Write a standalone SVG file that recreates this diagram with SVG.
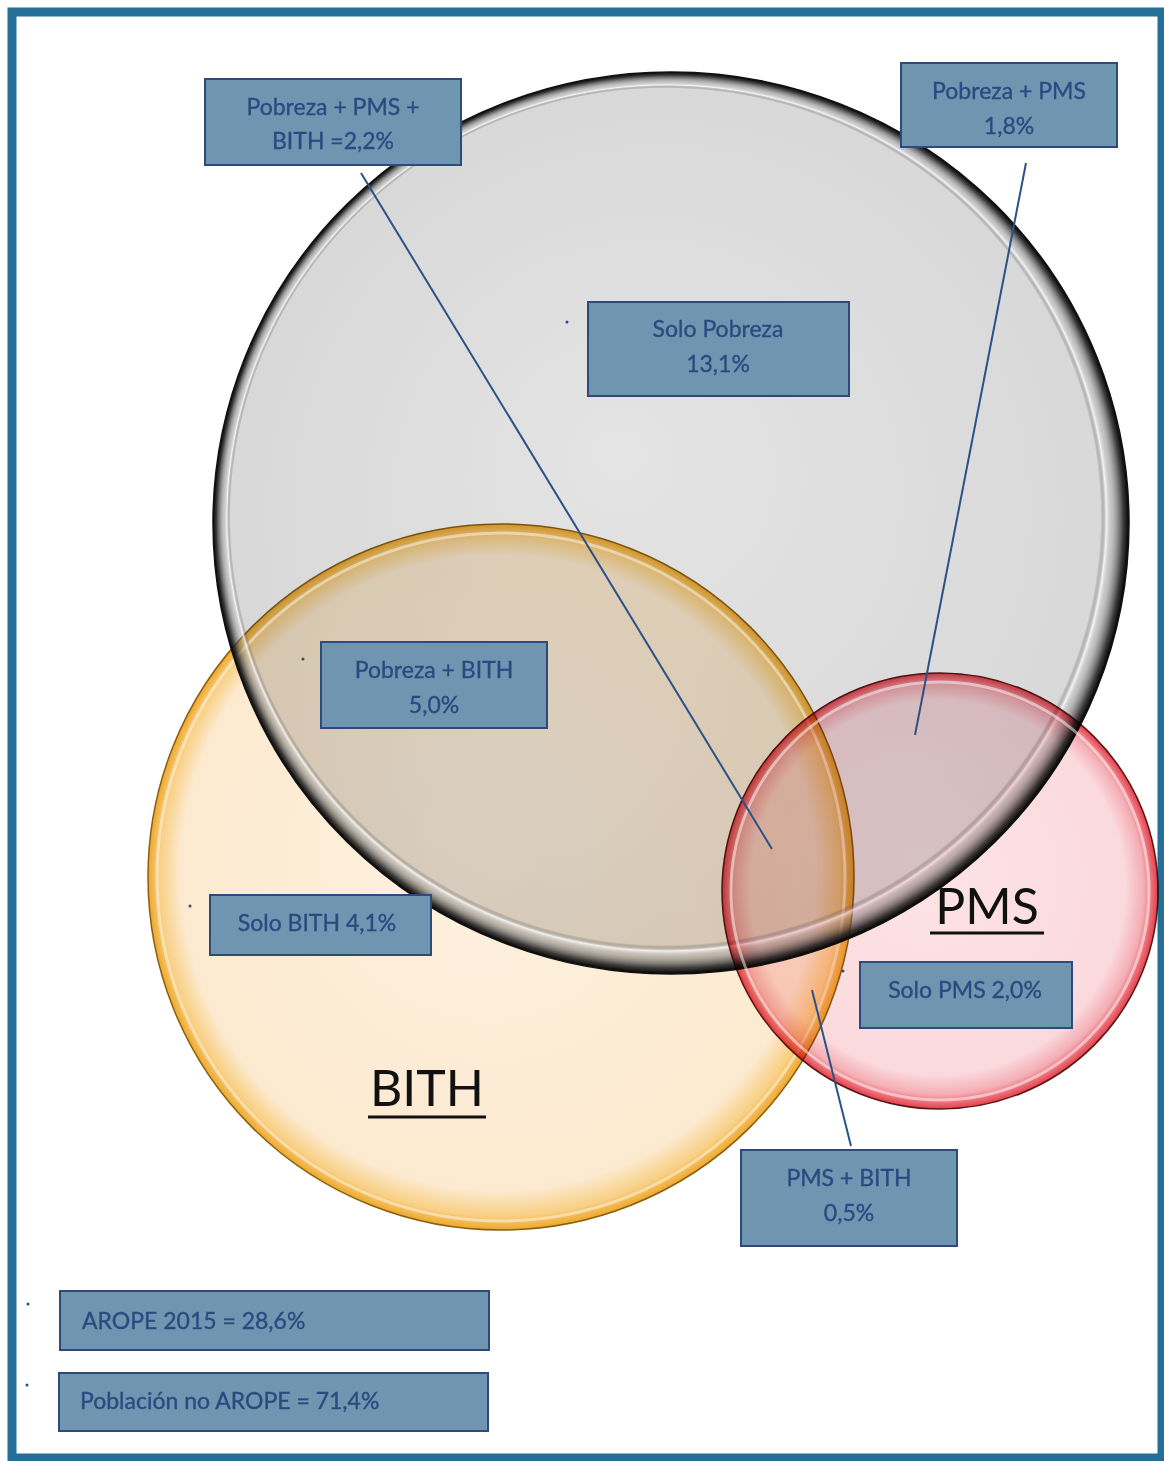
<svg xmlns="http://www.w3.org/2000/svg" width="1164" height="1461" viewBox="0 0 1164 1461">
<style>
.box{fill:#7095b0;stroke:#2d4a7a;stroke-width:2}
.lbl{font-family:Lato,"Open Sans","Liberation Sans",sans-serif;font-size:23px;fill:#2a4a80;stroke:#2a4a80;stroke-width:0.35;text-anchor:middle}
.lbll{font-family:Lato,"Open Sans","Liberation Sans",sans-serif;font-size:23px;fill:#2a4a80;stroke:#2a4a80;stroke-width:0.35}
.big{font-family:Lato,"Open Sans","Liberation Sans",sans-serif;font-size:50px;fill:#111;text-anchor:middle}
.lead{stroke:#2a5285;stroke-width:2;fill:none}
.dot{fill:#2a4a80}
.mult{mix-blend-mode:multiply}
</style>
<defs>
<radialGradient id="gGray" cx="0.5" cy="0.5" r="0.5" fx="0.44" fy="0.42">
<stop offset="0" stop-color="#e4e4e4"/>
<stop offset="1" stop-color="#d8d8d8"/>
</radialGradient>
<radialGradient id="gGrayRim" cx="0.5" cy="0.5" r="0.5" fx="0.38" fy="0.36">
<stop offset="0" stop-color="#000" stop-opacity="0"/>
<stop offset="0.95" stop-color="#000" stop-opacity="0"/>
<stop offset="0.96" stop-color="#fff" stop-opacity="0.75"/>
<stop offset="0.97" stop-color="#999" stop-opacity="0.35"/>
<stop offset="0.99" stop-color="#222" stop-opacity="0.85"/>
<stop offset="1" stop-color="#000" stop-opacity="1"/>
</radialGradient>
<radialGradient id="gBith" cx="0.5" cy="0.5" r="0.5" fx="0.46" fy="0.44">
<stop offset="0" stop-color="#fdf0de"/>
<stop offset="0.9" stop-color="#fce8cc"/>
<stop offset="0.965" stop-color="#f8cc7a"/>
<stop offset="1" stop-color="#eca018"/>
</radialGradient>
<radialGradient id="gPms" cx="0.5" cy="0.5" r="0.5" fx="0.46" fy="0.44">
<stop offset="0" stop-color="#fcdfe2"/>
<stop offset="0.86" stop-color="#fad3d7"/>
<stop offset="0.94" stop-color="#f2a0a8"/>
<stop offset="1" stop-color="#e01c2a"/>
</radialGradient>
</defs>
<rect x="0" y="0" width="1164" height="1461" fill="#fff"/>
<rect x="12" y="12" width="1150" height="1446" fill="#fff" stroke="#236f97" stroke-width="9"/>

<g id="circle-pobreza">
<ellipse cx="671" cy="523" rx="458" ry="451" fill="url(#gGray)"/>
</g>
<g id="circle-bith">
<circle class="mult" cx="501" cy="877" r="353" fill="url(#gBith)" fill-opacity="0.92" stroke="#8a6010" stroke-width="1.5"/>
<circle cx="501" cy="877" r="344" fill="none" stroke="#fff" stroke-opacity="0.45" stroke-width="3"/>
</g>
<g id="rim-pobreza">
<ellipse cx="671" cy="523" rx="458" ry="451" fill="url(#gGrayRim)" stroke="#111" stroke-width="1.5"/>
</g>
<g id="circle-pms">
<circle class="mult" cx="940" cy="891" r="218" fill="url(#gPms)" fill-opacity="0.85" stroke="#5a1515" stroke-width="1.5"/>
<circle cx="940" cy="891" r="209" fill="none" stroke="#fff" stroke-opacity="0.5" stroke-width="3"/>
</g>
<g id="title-bith">
<text class="big" x="427" y="1106">BITH</text>
<line x1="368" y1="1117" x2="486" y2="1117" stroke="#111" stroke-width="3"/>
</g>
<g id="title-pms">
<text class="big" x="987" y="924">PMS</text>
<line x1="930" y1="933" x2="1044" y2="933" stroke="#111" stroke-width="3"/>
</g>

<g id="connectors">
<line class="lead" x1="361" y1="173" x2="772" y2="849"/>
<line class="lead" x1="1026" y1="163" x2="915" y2="735"/>
<line class="lead" x1="812" y1="990" x2="851" y2="1146"/>
<circle class="dot" cx="567" cy="322" r="1.5"/>
<circle class="dot" cx="303" cy="659" r="1.5"/>
<circle class="dot" cx="190" cy="906" r="1.5"/>
<circle class="dot" cx="843" cy="971" r="1.5"/>
<circle class="dot" cx="28" cy="1304" r="1.5"/>
<circle class="dot" cx="27" cy="1385" r="1.5"/>
</g>

<g id="label-pobreza-pms-bith">
<rect class="box" x="205" y="79" width="256" height="86"/>
<text class="lbl" x="333" y="115">Pobreza + PMS +</text>
<text class="lbl" x="333" y="149">BITH =2,2%</text>
</g>
<g id="label-pobreza-pms">
<rect class="box" x="901" y="63" width="216" height="84"/>
<text class="lbl" x="1009" y="99">Pobreza + PMS</text>
<text class="lbl" x="1009" y="134">1,8%</text>
</g>
<g id="label-solo-pobreza">
<rect class="box" x="588" y="302" width="261" height="94"/>
<text class="lbl" x="718" y="337">Solo Pobreza</text>
<text class="lbl" x="718" y="372">13,1%</text>
</g>
<g id="label-pobreza-bith">
<rect class="box" x="321" y="642" width="226" height="86"/>
<text class="lbl" x="434" y="678">Pobreza + BITH</text>
<text class="lbl" x="434" y="713">5,0%</text>
</g>
<g id="label-solo-bith">
<rect class="box" x="210" y="895" width="221" height="60"/>
<text class="lbl" x="317" y="931">Solo BITH 4,1%</text>
</g>
<g id="label-solo-pms">
<rect class="box" x="860" y="962" width="212" height="66"/>
<text class="lbl" x="965" y="998">Solo PMS 2,0%</text>
</g>
<g id="label-pms-bith">
<rect class="box" x="741" y="1150" width="216" height="96"/>
<text class="lbl" x="849" y="1186">PMS + BITH</text>
<text class="lbl" x="849" y="1221">0,5%</text>
</g>
<g id="label-arope">
<rect class="box" x="60" y="1291" width="429" height="59"/>
<text class="lbll" x="82" y="1329">AROPE 2015 = 28,6%</text>
</g>
<g id="label-no-arope">
<rect class="box" x="59" y="1373" width="429" height="58"/>
<text class="lbll" x="80" y="1409">Población no AROPE = 71,4%</text>
</g>
</svg>
